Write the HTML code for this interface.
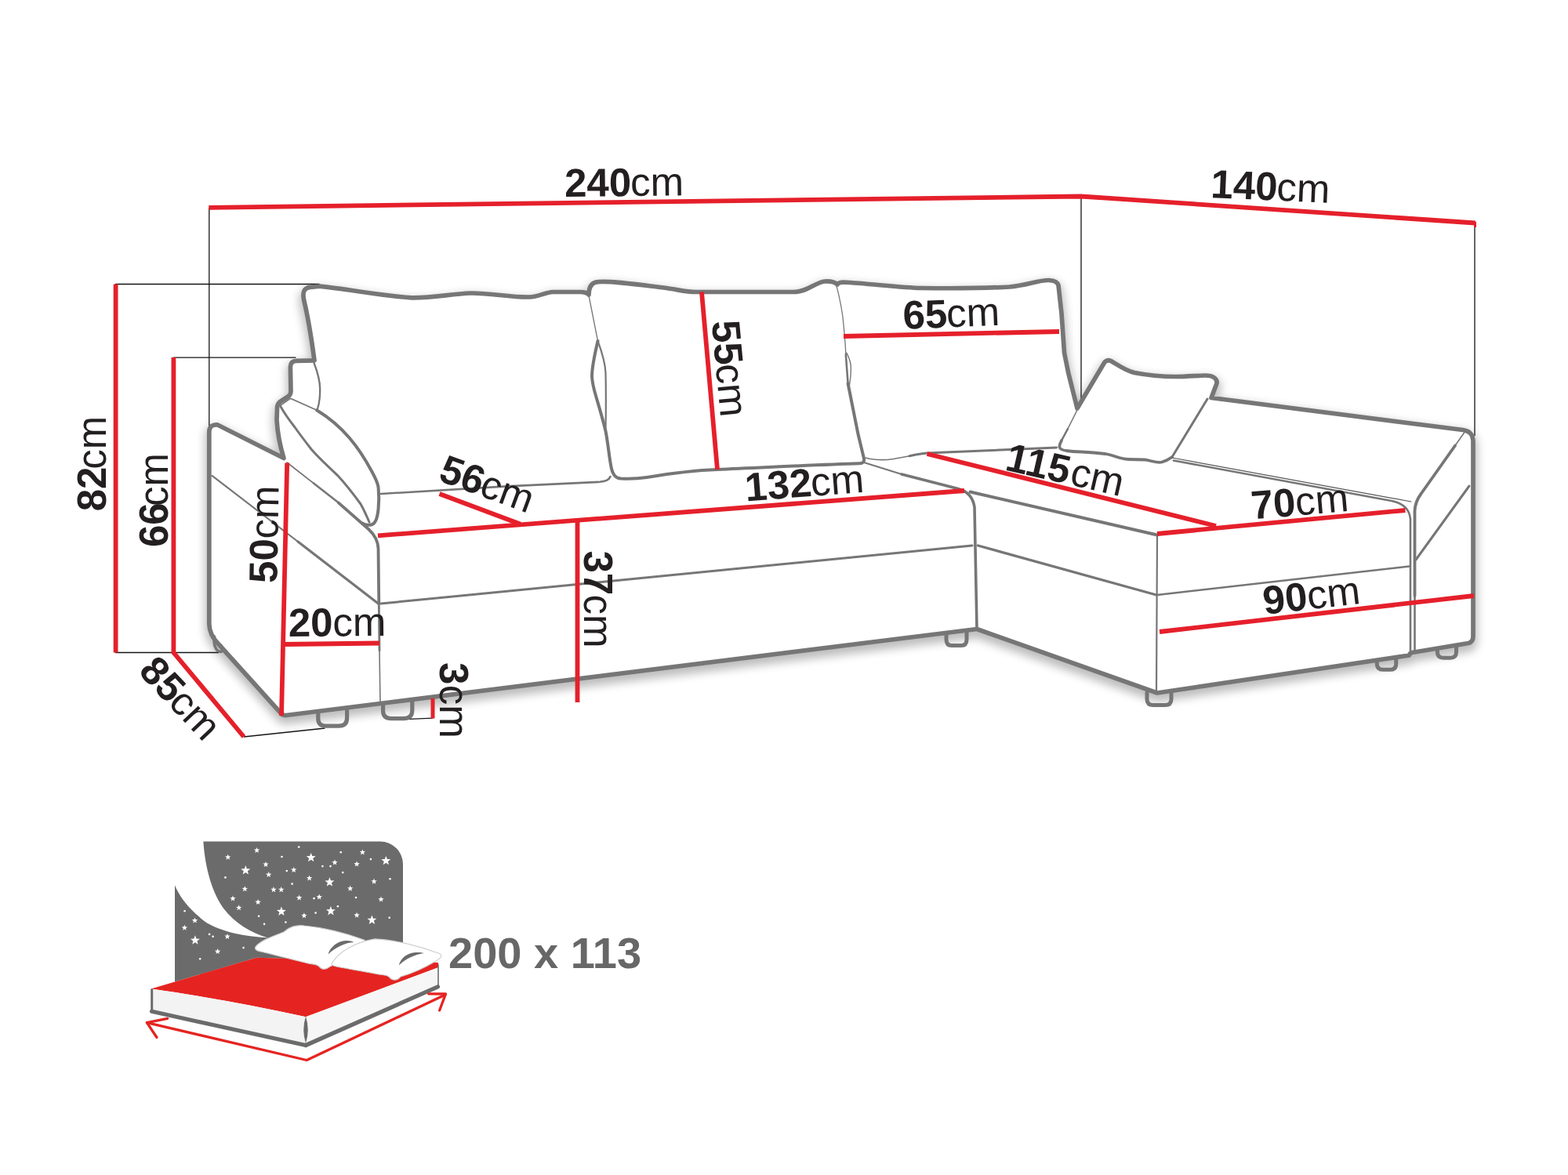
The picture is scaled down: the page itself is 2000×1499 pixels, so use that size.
<!DOCTYPE html>
<html><head><meta charset="utf-8"><title>Sofa dimensions</title>
<style>
html,body{margin:0;padding:0;background:#fff;}
body{width:2000px;height:1499px;overflow:hidden;font-family:"Liberation Sans",sans-serif;}
svg{display:block}
text{font-family:"Liberation Sans",sans-serif;}
</style></head><body>
<svg width="2000" height="1499" viewBox="0 0 2000 1499">
<defs>
<filter id="blur" x="-10%" y="-10%" width="120%" height="120%"><feGaussianBlur stdDeviation="6"/></filter>
<filter id="blur2" x="-10%" y="-10%" width="120%" height="120%"><feGaussianBlur stdDeviation="5"/></filter>
<polygon id="st" points="0.000,-1.000 0.247,-0.340 0.951,-0.309 0.399,0.130 0.588,0.809 0.000,0.420 -0.588,0.809 -0.399,0.130 -0.951,-0.309 -0.247,-0.340"/>
</defs>
<rect width="2000" height="1499" fill="#fff"/>

<!-- soft shadow -->
<g filter="url(#blur)" opacity="0.26"><path d="M266.8,796 L266.8,551 Q267,541.5 277,541.8 L362,584.5 C357.5,570 354,552 353,536 L353.6,519 Q354.5,514 358,512 L366.5,506.5 Q371,504 371,499 L370.4,468 Q370.6,460.5 378,460.3 L401,459.8 C398,437 393,405 387.5,382 C385.5,371 389,367 396,366.3 L407.5,365.2 C445,369 490,378 525,379.8 C550,380.5 575,375 600,374 C625,373.5 650,379.5 675,379 C688,378.5 695,373 705,372.5 L740,372.5 Q748,372.5 751,376 C751,368 753,362 760,360 C775,357 820,364 850,367.5 C865,369.5 875,372.5 887.5,372.5 L1012.5,372.5 C1030,372.5 1040,360 1052,359 C1060,358.5 1065,360 1068,363 C1070,360 1073,360 1076,360 C1110,362 1150,367 1175,367.5 C1215,368 1260,367.5 1287.5,366 C1310,364 1325,357 1338,357.5 C1346,358 1349,360 1350,364 L1354,400 L1357.5,450 L1362.5,475 L1374,521 L1409,462 Q1413,458 1418,461 C1428,467 1436,473 1447,475.5 C1465,479 1485,480.5 1500,480.5 C1515,480.5 1527,479 1537.5,479 C1547,479 1553,483 1552,489 L1545,507.5 L1866,548.5 Q1878,550 1879,562 L1879,812 Q1879,819 1873,820.5 L1801,832.5 Q1798,833 1797.5,836 L1476,884 L1246,802.5 L485,897.5 L365,912.5 Q360,913 357.5,909 L279,822 Q267,810 266.8,796 Z" transform="translate(0,6)" fill="#000" stroke="#000" stroke-width="11"/></g>
<path d="M266.8,796 L266.8,551 Q267,541.5 277,541.8 L362,584.5 C357.5,570 354,552 353,536 L353.6,519 Q354.5,514 358,512 L366.5,506.5 Q371,504 371,499 L370.4,468 Q370.6,460.5 378,460.3 L401,459.8 C398,437 393,405 387.5,382 C385.5,371 389,367 396,366.3 L407.5,365.2 C445,369 490,378 525,379.8 C550,380.5 575,375 600,374 C625,373.5 650,379.5 675,379 C688,378.5 695,373 705,372.5 L740,372.5 Q748,372.5 751,376 C751,368 753,362 760,360 C775,357 820,364 850,367.5 C865,369.5 875,372.5 887.5,372.5 L1012.5,372.5 C1030,372.5 1040,360 1052,359 C1060,358.5 1065,360 1068,363 C1070,360 1073,360 1076,360 C1110,362 1150,367 1175,367.5 C1215,368 1260,367.5 1287.5,366 C1310,364 1325,357 1338,357.5 C1346,358 1349,360 1350,364 L1354,400 L1357.5,450 L1362.5,475 L1374,521 L1409,462 Q1413,458 1418,461 C1428,467 1436,473 1447,475.5 C1465,479 1485,480.5 1500,480.5 C1515,480.5 1527,479 1537.5,479 C1547,479 1553,483 1552,489 L1545,507.5 L1866,548.5 Q1878,550 1879,562 L1879,812 Q1879,819 1873,820.5 L1801,832.5 Q1798,833 1797.5,836 L1476,884 L1246,802.5 L485,897.5 L365,912.5 Q360,913 357.5,909 L279,822 Q267,810 266.8,796 Z" fill="#fff"/>

<!-- thin black guide lines -->
<g fill="none" stroke="#141414" stroke-width="1.3">
<path d="M147,362.5 H407.5"/>
<path d="M221,456.1 H377.4"/>
<path d="M266.8,265 V550"/>
<path d="M147,832.5 H279"/>
<path d="M311,940 L414.5,929"/>
<path d="M517,917.7 L552,916.2"/>
<path d="M1379,251 V515"/>
<path d="M1881,288 V556"/>
</g>

<!-- sofa outline -->
<g fill="none" stroke="#767676" stroke-linecap="round" stroke-linejoin="round">
<!-- silhouette -->
<path d="M266.8,796 L266.8,551 Q267,541.5 277,541.8 L362,584.5 C357.5,570 354,552 353,536 L353.6,519 Q354.5,514 358,512 L366.5,506.5 Q371,504 371,499 L370.4,468 Q370.6,460.5 378,460.3 L401,459.8 C398,437 393,405 387.5,382 C385.5,371 389,367 396,366.3 L407.5,365.2 C445,369 490,378 525,379.8 C550,380.5 575,375 600,374 C625,373.5 650,379.5 675,379 C688,378.5 695,373 705,372.5 L740,372.5 Q748,372.5 751,376 C751,368 753,362 760,360 C775,357 820,364 850,367.5 C865,369.5 875,372.5 887.5,372.5 L1012.5,372.5 C1030,372.5 1040,360 1052,359 C1060,358.5 1065,360 1068,363 C1070,360 1073,360 1076,360 C1110,362 1150,367 1175,367.5 C1215,368 1260,367.5 1287.5,366 C1310,364 1325,357 1338,357.5 C1346,358 1349,360 1350,364 L1354,400 L1357.5,450 L1362.5,475 L1374,521 L1409,462 Q1413,458 1418,461 C1428,467 1436,473 1447,475.5 C1465,479 1485,480.5 1500,480.5 C1515,480.5 1527,479 1537.5,479 C1547,479 1553,483 1552,489 L1545,507.5 L1866,548.5 Q1878,550 1879,562 L1879,812 Q1879,819 1873,820.5 L1801,832.5 Q1798,833 1797.5,836 L1476,884 L1246,802.5 L485,897.5 L365,912.5 Q360,913 357.5,909 L279,822 Q267,810 266.8,796 Z" stroke-width="5.7"/>
<!-- feet -->
<g stroke-width="5.2">
<path d="M405.8,908 V917 Q405.8,926.2 416,926.2 H432 Q442.6,926.2 442.6,916 V903"/>
<path d="M488.6,899 V907 Q488.6,916.6 499,916.6 H515 Q525.8,916.6 525.8,906 V894"/>
<path d="M273.5,812 C272,822 275,830.5 281,831.5 C284.5,831.5 284.5,827 282,823.5" stroke-width="3.6"/>
<path d="M1207,809 V816 Q1207,823.5 1214,823.5 H1226 Q1233,823.5 1233,816 V805" stroke-width="5"/>
<path d="M1463,884 V892 Q1463,899.5 1471,899.5 H1486 Q1494,899.5 1494,892 V882" stroke-width="5"/>
<path d="M1756.3,843 V847 Q1756.3,854.3 1764,854.3 H1773 Q1780.7,854.3 1780.7,847 V840" stroke-width="5"/>
<path d="M1833.4,829 V832 Q1833.4,839.2 1841,839.2 H1850 Q1857.5,839.2 1857.5,832 V825" stroke-width="5"/>
</g>
<!-- armrest front panel top edge + right edge -->
<path d="M366,590 L400,616.5" stroke-width="1.6"/>
<path d="M400,616.5 L432,641.6" stroke-width="2.6"/>
<path d="M432,641.6 L470,675 Q482,686 482.5,700 L483.3,770" stroke-width="3.8"/>
<path d="M483.3,770 L484,830" stroke-width="2.8"/>
<path d="M484,830 L485,897" stroke-width="1.6"/>
<!-- armrest side seam -->
<path d="M270.5,606.8 L380,691" stroke-width="2.2"/><path d="M380,691 L482.5,770" stroke-width="3.2"/>
<!-- armrest pillow -->
<path d="M357.8,517 L370.4,508.2 L404,523.3" stroke-width="1.8"/>
<path d="M404,523.3 C420,533 434,545 446,559 C458,573 467,588 474,601 C479,610 482,617 482.6,622 C483.4,630 483.4,642 482.5,650 C481.5,660 479,667 475,669 C470,670.5 465,669.5 462,667.5" stroke-width="4"/>
<path d="M357.8,518.4 C363,528 369,536 376,545 C383,555 390,564 397,573 C408,586 420,596 432,608 C443,620 452,632 460,643 C464,650 468,659 471,666" stroke-width="3"/>
<path d="M400.5,463 C404,472 408,484 408.2,496 C408.3,506 407,516 404.7,522.6" stroke-width="2.3"/>
<!-- left cushion bottom / seat back -->
<path d="M486,630 L647,620.4 L765,614.8 Q776,614 778.5,608" stroke-width="2.6"/>
<!-- mid cushion sides/bottom -->
<path d="M751,377 L762.5,435" stroke-width="1.3"/>
<path d="M762.5,435 C759,450 755,468 755,480 C755.5,490 757,495 760,505 C765,522 769,535 772.5,550 C776,568 777,585 780,598 C782,606 785,610 792,610.5 C805,611 815,610.5 825,609 C855,604 885,600 915,599 C975,596.5 1040,593 1096,591.3 Q1103,591 1102,585 L1094.7,554.8 L1081.6,489.4" stroke-width="4"/>
<path d="M762.5,435 C768,450 772,462 772.5,476 C773,500 773,520 772.5,546" stroke-width="2.2"/>
<path d="M1066.7,363.3 C1071,380 1075,400 1076,414.7 C1077.5,430 1078.5,440 1078.8,452" stroke-width="1.3"/>
<path d="M1078.8,452 L1081.6,489.4" stroke-width="2.6"/>
<path d="M1079.8,450.2 C1084,458 1085.6,464 1085.4,470.7 C1085.3,479 1084.5,485 1083.5,491.3" stroke-width="1.4"/>
<!-- right cushion bottom -->
<path d="M1104,584 C1113,586.5 1122,587 1132,586.5 C1142,585.5 1150,583.5 1160,581.8" stroke-width="1.6"/>
<path d="M1160,581.8 C1168,580 1175,578.5 1182.5,578 C1240,575.8 1300,573 1347.5,571" stroke-width="3"/>
<!-- small pillow -->
<path d="M1374,523 L1362,547" stroke-width="1.6"/>
<path d="M1362,547 L1354,562" stroke-width="2.6"/>
<path d="M1354,562 C1352,566 1351,569 1351.5,570.5 C1352,573 1354,574 1360,575 C1367,576 1373,576.3 1380,576.5 C1392,577 1402,578 1410,579 C1418,580.5 1424,583 1430,584.5 C1434,585.5 1437,586 1440,586 L1460,586.5 C1464,586.7 1467,588 1470,588.5 C1474,589.5 1478,590.5 1482,589.5 C1488,588 1491,586 1495,583" stroke-width="3.8"/>
<path d="M1495,583 L1540,509" stroke-width="3"/>
<!-- corner -->
<path d="M1102,590 L1150,605" stroke-width="2"/>
<path d="M1150,605 L1222,623.5 Q1240,628 1243,647 L1246,802.5" stroke-width="3.6"/>
<path d="M1237.5,627.5 L1476,682.5" stroke-width="3.9"/>
<path d="M1476,682 L1475,882" stroke-width="2.2"/>
<!-- seams -->
<path d="M486,770 L1240,696" stroke-width="3"/>
<path d="M1247.5,696 L1475,759" stroke-width="3.2"/>
<path d="M1476,759 L1797.5,722.5" stroke-width="2.4"/>
<!-- chaise seat -->
<path d="M1495,584 L1800,640" stroke-width="1.2" stroke="#555"/>
<path d="M1497,587.5 L1775,639 Q1797,643.5 1799,662 L1799,836" stroke-width="2.6"/>
<!-- chaise arm panel -->
<path d="M1869,550 L1856,568.5" stroke-width="1.6"/>
<path d="M1856,568.5 L1812.5,630 Q1805,640 1804.5,652 L1804.5,760" stroke-width="3.8"/>
<path d="M1804.5,760 L1804.5,832" stroke-width="2.6"/>
<path d="M1874,620 L1806,714" stroke-width="3"/>
</g>

<!-- red dimension lines -->
<g fill="none" stroke="#e5202b" stroke-width="5.8" stroke-linecap="butt" stroke-linejoin="miter">
<path d="M266.3,264.8 L1379,250.5 L1881.7,284.5"/>
<path d="M1881.5,283 V290" stroke-width="3"/>
<path d="M147.6,362.5 V832.5"/>
<path d="M221.4,456 V832.5 L311,940"/>
<path d="M366.2,590.5 L359,913"/>
<path d="M362,822 L484,820.5"/>
<path d="M552,891 V916.5" stroke-width="5"/>
<path d="M560.5,630 L664,668.7"/>
<path d="M482,683.3 L1230,626"/>
<path d="M736.5,665 V896"/>
<path d="M895,372.5 L915,599"/>
<path d="M1076,429 L1351,423"/>
<path d="M1182.5,579 L1551,671"/>
<path d="M1476,681 L1792.5,651"/>
<path d="M1479,806 L1880,760"/>
</g>

<!-- labels -->
<g font-size="51" font-weight="700" fill="#231f20" color="#231f20">
<text transform="translate(720.2,251.0) rotate(-0.60)"><tspan x="0" y="0">240</tspan><tspan x="84" y="0" font-weight="400">cm</tspan></text>
<text transform="translate(1543.8,252.1) rotate(2.50)"><tspan x="0" y="0">140</tspan><tspan x="84" y="0" font-weight="400">cm</tspan></text>
<text transform="translate(134.6,652.3) rotate(-90.00)"><tspan x="0" y="0">82</tspan><tspan x="53.5" y="0" font-weight="400">cm</tspan></text>
<text transform="translate(214.1,698.0) rotate(-90.00)"><tspan x="0" y="0">66</tspan><tspan x="52" y="0" font-weight="400">cm</tspan></text>
<text transform="translate(353.2,744.2) rotate(-89.00)"><tspan x="0" y="0">50</tspan><tspan x="56.5" y="0" font-weight="400">cm</tspan></text>
<text transform="translate(368.0,812.0) rotate(-0.50)"><tspan x="0" y="0">20</tspan><tspan x="56.5" y="0" font-weight="400">cm</tspan></text>
<text transform="translate(175.2,857.5) rotate(46.70)"><tspan x="0" y="0">85</tspan><tspan x="55.5" y="0" font-weight="400">cm</tspan></text>
<text transform="translate(561.3,845.0) rotate(90.00)"><tspan x="0" y="0">3</tspan><tspan x="28.7" y="0" font-weight="400">cm</tspan></text>
<text transform="translate(557.4,612.4) rotate(20.20)"><tspan x="0" y="0">56</tspan><tspan x="55.5" y="0" font-weight="400">cm</tspan></text>
<text transform="translate(907.7,410.2) rotate(84.70)"><tspan x="0" y="0">55</tspan><tspan x="55.5" y="0" font-weight="400">cm</tspan></text>
<text transform="translate(951.6,639.5) rotate(-4.46)"><tspan x="0" y="0">132</tspan><tspan x="84" y="0" font-weight="400">cm</tspan></text>
<text transform="translate(744.8,702.5) rotate(90.00)"><tspan x="0" y="0">37</tspan><tspan x="56" y="0" font-weight="400">cm</tspan></text>
<text transform="translate(1152.2,419.8) rotate(-2.30)"><tspan x="0" y="0">65</tspan><tspan x="55.5" y="0" font-weight="400">cm</tspan></text>
<text transform="translate(1280.6,599.2) rotate(12.90)"><tspan x="0" y="0">115</tspan><tspan x="84.5" y="0" font-weight="400">cm</tspan></text>
<text transform="translate(1597.3,662.6) rotate(-5.00)"><tspan x="0" y="0">70</tspan><tspan x="56.5" y="0" font-weight="400">cm</tspan></text>
<text transform="translate(1612.8,784.0) rotate(-6.50)"><tspan x="0" y="0">90</tspan><tspan x="56.5" y="0" font-weight="400">cm</tspan></text>
</g>

<!-- bed icon -->
<g>
<path d="M259.4,1073.6 H485 A29,29 0 0 1 514,1102.6 V1228 L327,1221.7 L223,1252.6 V1129.3 C228,1142 240,1160 264,1177.6 C290,1192 320,1195 341.7,1196.5 C320,1190 300,1178 285,1158.7 C268,1135 261,1100 259.4,1073.6 Z" fill="#6b6b6b"/>
<g fill="#fff">
<use href="#st" transform="translate(313.3,1110.4) scale(6.3)"/>
<use href="#st" transform="translate(396.7,1094.2) scale(6.3)"/>
<use href="#st" transform="translate(492.3,1098.2) scale(6.3)"/>
<use href="#st" transform="translate(420.4,1125.5) scale(6.3)"/>
<use href="#st" transform="translate(358.9,1162.9) scale(6.3)"/>
<use href="#st" transform="translate(421.9,1162.3) scale(6.3)"/>
<use href="#st" transform="translate(474.4,1173.8) scale(6.3)"/>
<use href="#st" transform="translate(248.9,1199.6) scale(6.3)"/>
<use href="#st" transform="translate(290.7,1093.6) scale(3.9)"/>
<use href="#st" transform="translate(327.6,1084.8) scale(3.9)"/>
<use href="#st" transform="translate(339.0,1102.8) scale(3.9)"/>
<use href="#st" transform="translate(342.7,1115.9) scale(3.9)"/>
<use href="#st" transform="translate(374.7,1109.8) scale(3.9)"/>
<use href="#st" transform="translate(394.6,1120.3) scale(3.9)"/>
<use href="#st" transform="translate(427.0,1100.3) scale(3.9)"/>
<use href="#st" transform="translate(455.1,1102.4) scale(3.9)"/>
<use href="#st" transform="translate(462.4,1087.3) scale(3.9)"/>
<use href="#st" transform="translate(477.1,1124.5) scale(3.9)"/>
<use href="#st" transform="translate(446.7,1133.5) scale(3.9)"/>
<use href="#st" transform="translate(312.3,1134.1) scale(3.9)"/>
<use href="#st" transform="translate(349.0,1135.0) scale(3.9)"/>
<use href="#st" transform="translate(358.7,1135.0) scale(3.9)"/>
<use href="#st" transform="translate(297.0,1146.3) scale(3.9)"/>
<use href="#st" transform="translate(329.1,1150.9) scale(3.9)"/>
<use href="#st" transform="translate(304.7,1158.1) scale(3.9)"/>
<use href="#st" transform="translate(381.6,1145.3) scale(3.9)"/>
<use href="#st" transform="translate(407.2,1144.4) scale(3.9)"/>
<use href="#st" transform="translate(486.0,1147.4) scale(3.9)"/>
<use href="#st" transform="translate(387.9,1168.1) scale(3.9)"/>
<use href="#st" transform="translate(455.1,1167.7) scale(3.9)"/>
<use href="#st" transform="translate(248.5,1174.4) scale(3.9)"/>
<use href="#st" transform="translate(235.4,1183.7) scale(3.9)"/>
<use href="#st" transform="translate(290.0,1194.8) scale(3.9)"/>
<use href="#st" transform="translate(277.6,1213.9) scale(3.9)"/>
<circle cx="381.2" cy="1080.6" r="1.3"/>
<circle cx="359.5" cy="1093.0" r="1.3"/>
<circle cx="434.7" cy="1087.3" r="1.3"/>
<circle cx="472.9" cy="1096.1" r="1.3"/>
<circle cx="411.4" cy="1105.1" r="1.3"/>
<circle cx="421.5" cy="1105.1" r="1.3"/>
<circle cx="365.8" cy="1111.0" r="1.3"/>
<circle cx="437.2" cy="1113.1" r="1.3"/>
<circle cx="287.5" cy="1119.4" r="1.3"/>
<circle cx="372.6" cy="1127.6" r="1.3"/>
<circle cx="497.5" cy="1121.3" r="1.3"/>
<circle cx="454.0" cy="1145.0" r="1.3"/>
<circle cx="400.5" cy="1146.1" r="1.3"/>
<circle cx="430.9" cy="1156.2" r="1.3"/>
<circle cx="402.6" cy="1164.6" r="1.3"/>
<circle cx="330.1" cy="1168.8" r="1.3"/>
<circle cx="364.4" cy="1176.5" r="1.3"/>
<circle cx="337.1" cy="1178.9" r="1.3"/>
<circle cx="496.7" cy="1170.7" r="1.3"/>
<circle cx="235.6" cy="1162.3" r="1.3"/>
<circle cx="267.1" cy="1191.9" r="1.3"/>
<circle cx="271.6" cy="1194.8" r="1.3"/>
<circle cx="310.6" cy="1209.1" r="1.3"/>
<circle cx="255.2" cy="1223.2" r="1.3"/>
</g>
<!-- mattress -->
<path d="M192.6,1261.6 L327,1221.7 L559,1228 L559,1234.3 L390,1297.3 Q290,1275 192.6,1261.6 Z" fill="#e52421"/>
<path d="M192.6,1261.6 Q290,1275 390,1297.3 L390,1331 L192.6,1289 Z" fill="#f3f3f3"/>
<path d="M390,1297.3 L559,1234.3 L559,1258.4 L391,1331 Z" fill="#f6f6f6"/>
<g fill="none" stroke="#6b6b6b" stroke-linecap="round">
<path d="M193.7,1262.5 V1288.5" stroke-width="3"/>
<path d="M193.5,1290.3 L390,1333.5" stroke-width="5.2"/>
<path d="M390,1333.5 L558.5,1258.8" stroke-width="5.2"/>
<path d="M559,1231 V1258" stroke-width="1.6"/>
</g>
<path d="M390,1296.5 Q384.5,1314 390,1331 Q395.5,1314 390,1296.5 Z" fill="#6b6b6b"/>
<!-- pillows -->
<g fill="#fff" stroke="#cfcfcf" stroke-width="1.2">
<path d="M326.8,1207 C333,1199 350,1194 362,1189 C368,1183 378,1179.5 388,1181 C410,1183 440,1190 464,1199 C470,1202 466,1207 458,1211 C447,1219 432,1228 421,1233 C416,1237 411,1237.5 407,1233 C403,1229 398,1230.5 393,1229 C372,1224 350,1218 333,1214 C326,1213 324,1210 326.8,1207 Z"/>
<path d="M424,1228 C432,1215 452,1202 478,1197.8 C505,1199 538,1208 560.6,1216.5 C565,1219 562,1223 556,1226 C541,1235 525,1242 511,1246 C507,1251 501,1251.5 497,1247 C493,1243 488,1244 483,1243 C462,1239 444,1236 429,1233 C423,1232 422,1230 424,1228 Z"/>
</g>
<path d="M418.5,1217.4 C421,1208 431,1200.5 441,1200 C445,1199.8 449,1200.5 451.4,1202 C441,1202.5 428,1208.5 418.5,1217.4 Z" fill="#6b6b6b"/>
<path d="M508.8,1231.4 C511,1222 520,1215.5 530,1215 C535,1214.8 539,1215.3 541,1216 C530,1217.5 518,1222.5 508.8,1231.4 Z" fill="#6b6b6b"/>
<!-- arrows -->
<g fill="none" stroke="#e52421" stroke-width="3.3" stroke-linecap="round" stroke-linejoin="round">
<path d="M187.4,1304.6 L391.2,1352.5 L567.5,1269.2"/>
<path d="M213.6,1299.4 L187.4,1304.6 L200,1323.5"/>
<path d="M546.6,1267.8 L568.5,1268 L560.6,1289"/>
</g>
<text x="572" y="1235.3" font-size="56" font-weight="700" fill="#676767">200 x 113</text>
</g>
</svg>
</body></html>
